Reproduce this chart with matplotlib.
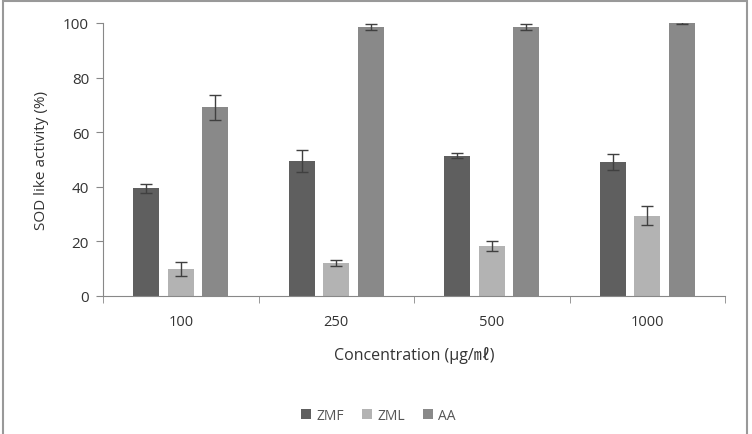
import numpy as np
import matplotlib
matplotlib.use('Agg')
import matplotlib.pyplot as plt
from matplotlib.patches import Rectangle

plt.rcParams['font.family'] = ['Open Sans', 'Noto Sans CJK KR', 'DejaVu Sans']

# data
concentrations = ['100', '250', '500', '1000']
series = ['ZMF', 'ZML', 'AA']
zmf = [39.4, 49.6, 51.4, 49.0]
zmf_err = [1.5, 4.0, 1.0, 3.0]
zml = [9.9, 12.1, 18.4, 29.4]
zml_err = [2.7, 1.2, 1.8, 3.4]
aa = [69.1, 98.5, 98.4, 100.0]
aa_err = [4.5, 1.0, 1.1, 0.2]
colors = ['#5f5f5f', '#b3b3b3', '#898989']

fig = plt.figure(figsize=(7.52, 4.35), dpi=100)
ax = fig.add_axes([103 / 752, 1 - 297 / 435, 622 / 752, 273 / 435])

x = np.arange(len(concentrations))
w = 0.167
step = 0.222
for i, (vals, errs) in enumerate([(zmf, zmf_err), (zml, zml_err), (aa, aa_err)]):
    ax.bar(x + (i - 1) * step, vals, w, color=colors[i], label=series[i],
           yerr=errs, capsize=4, error_kw=dict(ecolor='#404040', elinewidth=1, capthick=1))

ax.set_xlim(-0.5, len(concentrations) - 0.5)
ax.set_ylim(0, 100)
ax.set_yticks(range(0, 101, 20))
ax.set_xticks(x)
ax.set_xticklabels(concentrations)
ax.set_xticks(np.arange(-0.5, len(concentrations)), minor=True)
ax.tick_params(axis='x', which='major', length=0, pad=13, labelsize=10.5, labelcolor='#333333')
ax.tick_params(axis='x', which='minor', length=5, color='#888888')
ax.tick_params(axis='y', length=5, color='#888888', labelsize=11, labelcolor='#333333', pad=5)
for s in ['top', 'right']:
    ax.spines[s].set_visible(False)
for s in ['left', 'bottom']:
    ax.spines[s].set_color('#888888')
ax.set_ylabel('SOD like activity (%)', fontsize=11, color='#333333', labelpad=10)
ax.set_xlabel('Concentration (μg/㎖)', fontsize=11.5, color='#333333', labelpad=12)

ax.legend(loc='upper center', bbox_to_anchor=(0.443, -0.365), ncol=3, frameon=False,
          fontsize=10, handlelength=0.7, handleheight=0.7, handletextpad=0.4,
          columnspacing=1.3, labelcolor='#555555')

fig.patches.append(Rectangle((3 / 752, -0.02), 744 / 752, 1 - 2 / 435 + 0.02,
                             transform=fig.transFigure, fill=False,
                             edgecolor='#999999', linewidth=1.5))

fig.savefig('out.png', dpi=100)
